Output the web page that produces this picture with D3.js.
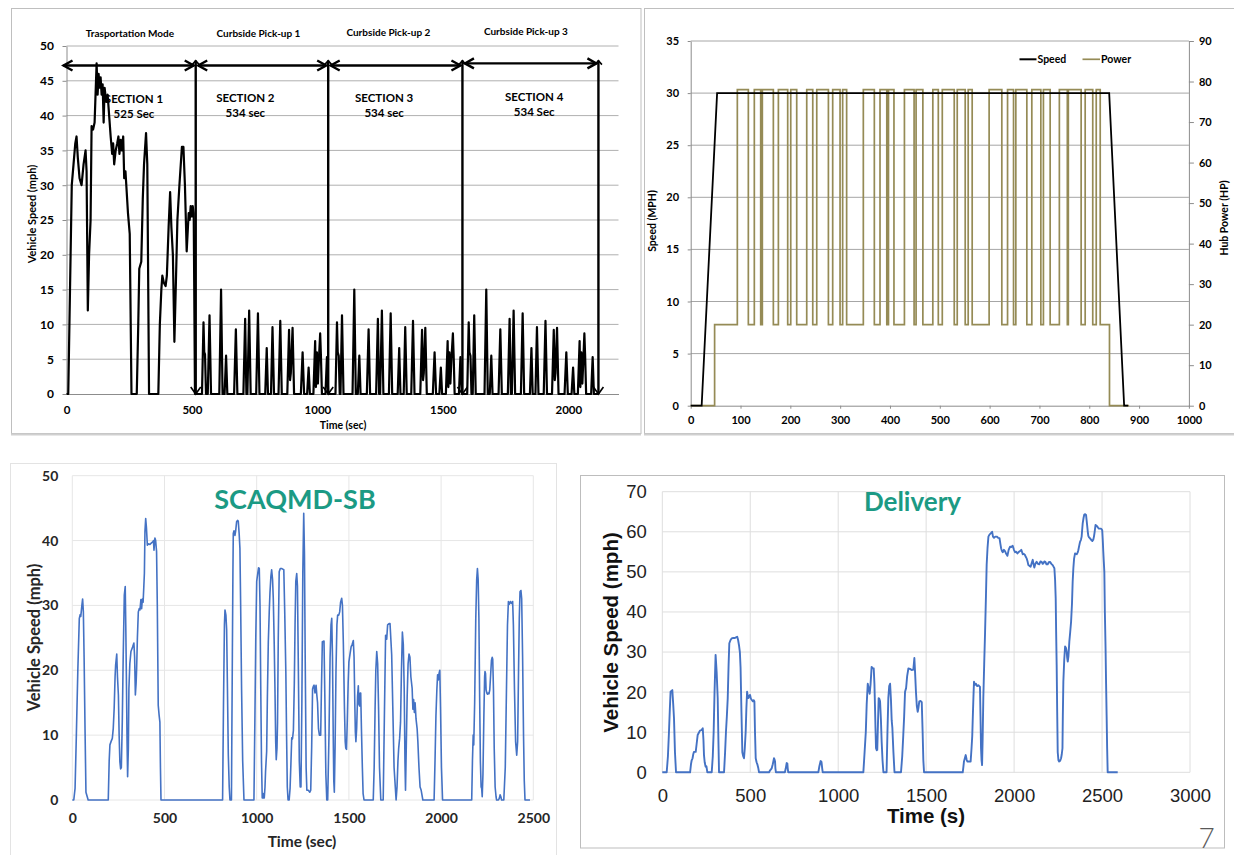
<!DOCTYPE html>
<html><head><meta charset="utf-8">
<script src="https://cdn.jsdelivr.net/npm/d3@7"></script>
<style>body{margin:0;background:#fff}svg{display:block}</style>
</head><body>
<svg id="c" width="1234" height="855"></svg>
<script>
// ---------------- DATA ----------------
// Panel 1: speed trace by section (time sec, mph)
const transportSpeed = [[0,0],[7,0],[14,15],[21,30],[28,33],[35,36],[40,37],[45,34],[52,31],[60,30],[68,33],[76,35],[80,32],[85,12],[90,20],[96,25],[100,38.5],[106,38],[112,39],[120,47.5],[124,43],[128,46],[132,44],[136,45.5],[140,43],[144,44.5],[148,39],[152,44],[158,42],[164,43],[170,40],[176,37],[182,34.5],[186,36],[190,33],[196,35],[202,36],[207,37],[211,34.5],[216,36.5],[220,35],[226,37],[230,31],[235,32],[245,26],[252,23],[259,0],[280,0],[286,10],[290,18],[298,19],[304,28],[309,33],[317,37.5],[322,33],[329,0],[366,0],[372,10],[378,15],[382,17],[388,16],[395,15.5],[400,17],[407,24],[413,29],[418,24],[424,20],[430,7.5],[436,16],[442,25],[450,30],[460,35.5],[466,35.5],[472,30],[479,20.5],[484,24],[487,26],[491,25],[495,27],[499,25.5],[503,27],[507,26],[512,0]];
const pickup1Speed = [[512,0],[540,0],[546,10.3],[549,6],[552,5.7],[556,0],[563,0],[570,11.3],[576,0],[609,0],[616,15],[622,0],[630,0],[636,5.5],[641,0],[668,0],[675,9.3],[681,0],[705,0],[712,10.8],[717,0],[721,0],[728,12],[734,0],[756,0],[763,11.6],[769,0],[792,0],[798,6.6],[803,0],[815,0],[821,9.6],[827,0],[845,0],[852,10.5],[858,0],[880,0],[887,9.2],[891,2],[894,3],[901,9.5],[907,0],[934,0],[941,6],[947,0],[959,0],[965,3.8],[970,0],[984,0],[991,7.6],[994,1],[998,6],[1002,1.5],[1006,5],[1011,8.7],[1014,5.5],[1018,0],[1032,0],[1038,5.3],[1043,0]];
const pickup2Speed = [[1043,0],[1072,0],[1078,10.3],[1081,6],[1085,5.5],[1089,0],[1092,0],[1098,11.3],[1104,0],[1140,0],[1147,15],[1153,0],[1161,0],[1167,5.5],[1172,0],[1197,0],[1204,9.3],[1210,0],[1234,0],[1241,10.8],[1246,0],[1250,0],[1257,12],[1263,0],[1285,0],[1292,11.6],[1298,0],[1320,0],[1326,6.6],[1331,0],[1344,0],[1350,9.6],[1356,0],[1374,0],[1381,10.5],[1387,0],[1410,0],[1417,9.2],[1421,2],[1424,3],[1430,9.5],[1436,0],[1460,0],[1467,6],[1473,0],[1486,0],[1492,3.8],[1497,0],[1512,0],[1519,7.6],[1522,1],[1526,6],[1530,1.5],[1534,5],[1540,8.7],[1543,5.5],[1547,0],[1564,0],[1570,5.3],[1576,0]];
const pickup3Speed = [[1576,0],[1597,0],[1603,10.3],[1606,6],[1610,5.5],[1614,0],[1619,0],[1625,11.3],[1631,0],[1666,0],[1673,15],[1679,0],[1687,0],[1693,5.5],[1698,0],[1722,0],[1729,9.3],[1735,0],[1759,0],[1766,10.8],[1771,0],[1775,0],[1782,12],[1788,0],[1811,0],[1818,11.6],[1824,0],[1847,0],[1853,6.6],[1858,0],[1869,0],[1875,9.6],[1881,0],[1902,0],[1909,10.5],[1915,0],[1935,0],[1942,9.2],[1946,2],[1949,3],[1955,9.5],[1961,0],[1985,0],[1992,6],[1998,0],[2013,0],[2019,3.8],[2024,0],[2038,0],[2045,7.6],[2048,1],[2052,6],[2056,1.5],[2060,5],[2064,8.7],[2067,5.5],[2071,0],[2091,0],[2097,5.3],[2102,0],[2120,0]];
const sectionBounds = [0, 515, 1043, 1578, 2120];
const sectionArrowLevel = [47.2, 47.2, 47.2, 47.5];
const phaseLabels = ["Trasportation Mode","Curbside Pick-up 1","Curbside Pick-up 2","Curbside Pick-up 3"];
const sectionNames = ["SECTION 1","SECTION 2","SECTION 3","SECTION 4"];
const sectionDurations = ["525 Sec","534 sec","534 sec","534 Sec"];
const p1YTicks = [0,5,10,15,20,25,30,35,40,45,50];
const p1XTicks = [0,500,1000,1500,2000];

// Panel 2: constant speed cycle + hub power
const cycleTime = [0,22,53,840,870,878];
const cycleSpeed = [0,0,30,30,0,0];
const powerStart = [0,48,93.6,115.7,127.7,140.5,143.8,165.9,176,194.7,200.8,212.8,232.9,245,253,276.4,285,299.8,305,313,346.5,368.6,380,393.6,397,408,429,448.4,452.4,466,486,497,505,529,535,551,557,565,599,624.5,636,648,652.6,674.7,684.7,702.8,708,721.5,740,756,758,783.7,791.8,807,814,822,840.6,880];
const powerLevel = [0,20,78,20,78,20,78,20,78,20,78,20,78,20,78,20,78,20,78,20,78,20,78,20,78,20,78,20,78,20,78,20,78,20,78,20,78,20,78,20,78,20,78,20,78,20,78,20,78,20,78,20,78,20,78,20,0,0];
const p2SpeedTicks = [0,5,10,15,20,25,30,35];
const p2PowerTicks = [0,10,20,30,40,50,60,70,80,90];
const p2XTicks = [0,100,200,300,400,500,600,700,800,900,1000];

// Panel 3: SCAQMD-SB
const scaqmdSpeed = [[0,0],[8,0],[15,1.8],[22,10],[30,20],[38,28],[43,28.6],[46,28.3],[52,30],[56,31],[60,29],[64,22],[69,11],[74,1.2],[81,0.5],[86,0],[195,0],[200,6],[204,8.5],[210,9],[217,9.5],[222,11],[227,14.1],[232,19],[235,20.8],[241,22.5],[245,19],[250,16.2],[254,10],[258,5.9],[262,4.8],[266,5],[271,12],[276,22],[282,31.6],[287,32.9],[290,27],[294,17.2],[297,9],[300,3.6],[304,8],[307,17.2],[312,21],[318,22.9],[327,23.6],[334,24.2],[338,22],[342,16.2],[346,18],[349,20.3],[353,25],[358,29],[363,29.5],[367,29.3],[372,30.9],[376,29.5],[380,31],[384,30.5],[388,33],[391,35],[394,41.4],[398,43.4],[402,42],[407,39.3],[414,39.5],[421,39.4],[428,39.6],[436,39.8],[440,40],[443,38.5],[448,40.4],[452,40],[457,38.3],[461,30],[466,14.6],[471,13],[475,12],[478,5],[481,0],[815,0],[820,15],[825,27],[828,29.3],[833,28.5],[837,26.3],[841,18],[846,7],[851,2],[855,0],[863,0],[868,22.4],[871,35],[873,41.1],[877,41.5],[882,40.8],[886,41.5],[891,42.9],[896,43.1],[900,43],[905,41],[909,38.8],[913,30],[918,17.1],[924,6],[931,0],[985,0],[990,12],[995,25],[1000,33.7],[1006,35],[1010,35.8],[1014,35.7],[1018,30],[1022,17.2],[1026,6],[1030,0.3],[1035,0.3],[1038,1],[1041,0.3],[1045,2],[1048,4.4],[1054,7.5],[1058,16],[1063,24.4],[1068,29],[1072,32],[1077,34.5],[1081,35.5],[1086,34],[1090,31],[1095,24],[1099,17.2],[1103,9],[1106,6.2],[1110,8],[1113,12],[1117,25],[1122,35.2],[1128,35.7],[1135,35.7],[1141,35.6],[1147,35.5],[1152,29],[1158,19.8],[1162,10],[1166,2],[1170,0],[1176,0],[1181,1.8],[1186,6],[1190,9.6],[1194,9.4],[1199,10.7],[1204,18],[1208,27],[1212,33.7],[1217,34.9],[1221,33],[1226,20],[1231,6],[1236,2],[1240,2],[1245,15],[1250,35],[1255,44.2],[1259,38],[1263,22],[1268,5],[1272,1.5],[1280,1.5],[1288,1.2],[1293,1.5],[1298,8],[1303,17.1],[1307,17.5],[1311,17.7],[1316,16.5],[1322,17.7],[1326,16.2],[1330,15],[1335,11],[1340,10],[1347,10],[1351,17],[1356,24.4],[1365,24.5],[1370,15],[1375,4],[1380,0],[1385,0],[1392,10],[1398,22],[1403,27],[1407,28],[1411,22],[1415,10],[1418,3],[1421,1.2],[1425,8],[1430,20],[1435,27],[1439,28.5],[1445,28.5],[1450,29],[1455,30.5],[1461,31.1],[1465,30],[1470,24],[1476,14],[1480,9],[1483,8],[1487,7.8],[1491,12],[1496,18],[1500,21.3],[1506,22.5],[1512,23.6],[1518,24],[1524,24.6],[1528,22],[1532,15],[1535,10.5],[1538,9],[1542,11],[1547,16],[1551,17.6],[1554,14.8],[1558,14.5],[1561,16.5],[1564,16.5],[1568,11],[1573,5],[1577,1],[1582,0],[1632,0],[1637,5],[1642,14],[1646,20],[1651,22.9],[1656,21],[1661,14],[1666,5],[1673,0],[1686,0],[1693,14],[1699,25.4],[1705,24.8],[1710,27],[1718,27.2],[1723,27.2],[1732,22.4],[1745,5],[1756,0],[1761,2],[1766,6],[1770,8],[1775,9.5],[1780,12],[1785,20],[1790,25.9],[1795,24],[1800,17],[1804,6],[1807,1.5],[1811,8],[1816,16],[1821,21],[1826,22.5],[1831,22],[1836,19],[1843,17.2],[1847,14],[1851,15.5],[1855,13.5],[1859,15],[1864,12.5],[1870,11],[1874,9],[1880,5],[1886,2],[1892,1.5],[1901,0],[1962,0],[1967,6],[1972,13],[1977,17],[1981,19.3],[1985,18.5],[1989,19.5],[1993,20],[1997,14],[2002,5],[2008,0],[2166,0],[2170,6],[2174,10],[2177,8.5],[2182,15],[2188,28],[2193,34],[2197,35.7],[2201,34],[2205,28],[2209,16],[2213,6],[2217,2],[2220,1.8],[2223,0.5],[2227,4],[2232,13],[2236,19],[2238,19.8],[2241,19.5],[2244,17],[2248,16.5],[2252,16.3],[2256,16.5],[2260,16.4],[2264,17],[2268,19],[2273,21.5],[2277,22],[2280,21.7],[2284,17],[2288,8],[2293,2],[2298,0.5],[2301,0],[2311,0],[2316,0.3],[2320,0.8],[2324,0.5],[2328,0],[2340,0],[2348,5],[2355,18],[2360,27],[2365,30.6],[2370,30.2],[2376,30.6],[2381,30.3],[2388,30.6],[2392,27],[2398,17],[2404,9],[2410,6.9],[2415,9],[2420,20],[2424,28],[2428,32.1],[2433,32.3],[2437,31],[2442,22],[2447,10],[2451,3],[2455,0],[2482,0]];
const p3YTicks = [0,10,20,30,40,50];
const p3XTicks = [0,500,1000,1500,2000,2500];

// Panel 4: Delivery
const deliverySpeed = [[0,0],[25,0],[32,4],[38,10.1],[43,16],[47,20.1],[52,20.3],[57,20.5],[62,17],[66.5,13.5],[72,5],[78,0],[158,0],[163,2],[167,3],[172,3.5],[176,4.5],[180,5.1],[190,5.1],[195,7],[201,9.3],[207,9.8],[214,10.4],[222,10.5],[230,11],[234,8],[237,4.3],[241,2.5],[246,1.4],[251,1.5],[256,0],[281,0],[287,4],[292,10.1],[297,20],[303,29.3],[309,25],[315,18.5],[319,8],[322.5,0],[351,0],[357,5],[362,10.1],[367,14],[372,18.5],[377,27],[381,32.2],[388,33],[394,33.4],[403,33.5],[413,33.5],[420,33.7],[426,33.8],[431,33],[436,31.7],[441,30],[445,26],[450,15],[455,5],[460,4],[464.5,3.5],[469,6],[474,10.1],[478,16],[482,20.1],[486,19],[489,18.5],[494,19],[499,19.3],[503,18.4],[508,18.1],[515,17.7],[520,18],[523.6,17.7],[527,10],[531,3.5],[536,2.5],[541,1.9],[546,1],[550,0],[607,0],[613,0.5],[622,1],[628,2],[635,3.5],[638,3.2],[641,2.7],[643,1],[646,0],[697,0],[702,1],[707,2.3],[711,2.2],[713,1],[716,0],[887,0],[893,1.5],[900,2.8],[905,2.6],[909,1],[912,0],[1143,0],[1150,5],[1157,10.1],[1162,17],[1168,22.1],[1173,21],[1179,19.6],[1184,22],[1190,26.3],[1196,26],[1202,25.9],[1206,22],[1209,16.8],[1212,11],[1215,6],[1219,5.5],[1222,5.6],[1226,12],[1230,18.5],[1234,18.3],[1238,17.7],[1243,13],[1247,7.7],[1252,3],[1257,0],[1275,0],[1280,10],[1285,18.5],[1290,21.5],[1295,22.1],[1300,18],[1304,13],[1308,11],[1314,5],[1320,0],[1357,0],[1364,4],[1370,9.3],[1375,14],[1380,20.1],[1386,21],[1392,24],[1399,25.9],[1408,25.8],[1418,25.5],[1427,25.6],[1430,27],[1433,28.5],[1437,25],[1442,20.1],[1447,16.5],[1452,15.1],[1456,16],[1461,17.7],[1468,17.8],[1475,17.5],[1480,10],[1484,3],[1488,0],[1708,0],[1712,1.5],[1715,2.7],[1720,3.5],[1725,4.3],[1730,3.2],[1734,2.7],[1745,2.7],[1753,2.7],[1758,6],[1762,9],[1765,13.5],[1769,19],[1772,22.6],[1777,21.8],[1783,22.1],[1790,21.5],[1797,21.7],[1802,21.5],[1806,21.3],[1809,14],[1812,6],[1815,3],[1818,1.8],[1821,8],[1825,18.5],[1830,27],[1835,35],[1840,44],[1844,51.7],[1849,56],[1854,58.8],[1860,59.3],[1867,59.6],[1871,59.8],[1875,60],[1880,58.8],[1886,58.5],[1893,58.8],[1901,58.8],[1909,58.5],[1917,58.4],[1922,57],[1926,55.9],[1931,55.2],[1935.5,54.9],[1942,55.5],[1949,55.1],[1955,54.5],[1962,54],[1969,55.5],[1977,56.3],[1984,56.2],[1992,56.5],[1999,55.5],[2006,54.9],[2012,55],[2019,54.6],[2027,55],[2034,55.2],[2041,55.5],[2049,54.4],[2055,54.5],[2062,54.2],[2067,53.7],[2072,53.3],[2077,52.5],[2081,51.7],[2087,51.5],[2094,51.3],[2100,52.2],[2106,53],[2110,52],[2115,51.1],[2121,52],[2128,52.5],[2135,52],[2143,51.9],[2150,52.6],[2157,52.5],[2162,52],[2166,52.1],[2172,52.6],[2178,52.5],[2184,51.9],[2191,51.9],[2197,52.4],[2204,52.5],[2212,52],[2219,51.7],[2224,51.3],[2229,50.9],[2233,48],[2236.5,43.4],[2239,35],[2242,26.8],[2245,15],[2248,5],[2252,3],[2256,2.7],[2262,2.9],[2267,3.5],[2271,4.5],[2275,6],[2277,14],[2280,22.6],[2285,28],[2290,31.4],[2295,31],[2299,30.1],[2302,28.5],[2305,27.6],[2309,29],[2314,32.6],[2319,35],[2324,37.6],[2329,42],[2333,47.6],[2337,51],[2341,53.3],[2346.5,54.6],[2351,54.5],[2356,54.4],[2361,54.8],[2365,55.4],[2370,56.5],[2375,57.5],[2380,58],[2384,58.8],[2387,60.5],[2390,62.1],[2395,63.5],[2399,64.3],[2404,64.4],[2409,64.2],[2412,63],[2416,61.3],[2419,60],[2422,59],[2426,58.6],[2431,58.4],[2438,58],[2445,57.7],[2450,58],[2454,58.8],[2458,60],[2463,61.7],[2468,61.5],[2473,61.3],[2478,61],[2482,60.8],[2488,60.8],[2494,60.8],[2498,60.6],[2501,60.4],[2504,58],[2507,55.1],[2510,52.5],[2513,50],[2516,40],[2520,30.9],[2523,22],[2526,14.2],[2529,6],[2532,0],[2589,0]];
const p4YTicks = [0,10,20,30,40,50,60,70];
const p4XTicks = [0,500,1000,1500,2000,2500,3000];

// ---------------- DRAWING ----------------
const svg = d3.select('#c');
svg.append('rect').attr('width',1234).attr('height',855).attr('fill','#fff');
const CAL = "Lato, 'Open Sans', sans-serif";
const ARIAL = "'Liberation Sans', Arial, sans-serif";
const fmt = d3.format('d');

function styleAxis(g, o){
  g.select('.domain').attr('stroke', o.domain || 'none').attr('stroke-width', 1);
  g.selectAll('.tick line').attr('stroke', o.tick || 'none');
  g.selectAll('.tick text').attr('fill', o.color).style('font-family', o.font)
    .style('font-size', o.size + 'px').style('font-weight', o.weight);
}
function txt(g, x, y, s, o){
  const t = g.append('text').attr('x', x).attr('y', y).text(s)
    .style('font-family', o.font).style('font-size', o.size + 'px').style('font-weight', o.weight || 400)
    .attr('fill', o.color || '#000').attr('text-anchor', o.anchor || 'middle').attr('dominant-baseline','central');
  if (o.rotate) t.attr('transform', `rotate(${o.rotate},${x},${y})`);
  return t;
}

// Frames
svg.append('rect').attr('x',11.5).attr('y',8.5).attr('width',629.5).attr('height',425).attr('fill','none').attr('stroke','#bfbfbf');
svg.append('line').attr('x1',11).attr('x2',641).attr('y1',434.5).attr('y2',434.5).attr('stroke','#d0d0d0').attr('stroke-width',2);
svg.append('rect').attr('x',644.5).attr('y',8.5).attr('width',600).attr('height',425).attr('fill','none').attr('stroke','#bfbfbf');
svg.append('line').attr('x1',644).attr('x2',1234).attr('y1',434.5).attr('y2',434.5).attr('stroke','#d0d0d0').attr('stroke-width',2);
svg.append('rect').attr('x',10.5).attr('y',463.5).attr('width',546).attr('height',400).attr('fill','none').attr('stroke','#e3e3e3');
svg.append('rect').attr('x',580.5).attr('y',475.5).attr('width',644).attr('height',372.5).attr('fill','none').attr('stroke','#bdbdbd');

// ---------- Panel 1 ----------
{
  const x = d3.scaleLinear().domain([0,2200]).range([66.5,618.5]);
  const y = d3.scaleLinear().domain([0,50]).range([394,46]);
  const g = svg.append('g');
  g.selectAll('line.gr').data(p1YTicks.filter(d=>d>0)).join('line')
    .attr('x1',x(0)).attr('x2',x(2200)).attr('y1',d=>y(d)).attr('y2',d=>y(d)).attr('stroke','#b0b0b0');
  const ay = g.append('g').attr('transform',`translate(${x(0)},0)`)
    .call(d3.axisLeft(y).tickValues(p1YTicks).tickFormat(fmt).tickSize(4).tickSizeOuter(0).tickPadding(8.5));
  styleAxis(ay,{domain:'#8c8c8c',tick:'#8c8c8c',color:'#000',font:CAL,size:12,weight:700});
  const ax = g.append('g').attr('transform',`translate(0,${y(0)})`)
    .call(d3.axisBottom(x).tickValues(p1XTicks).tickFormat(fmt).tickSize(0).tickSizeOuter(0).tickPadding(12));
  styleAxis(ax,{domain:'#8c8c8c',tick:'none',color:'#000',font:CAL,size:11.5,weight:700});
  txt(g, 343, 425, 'Time (sec)', {font:CAL,size:10.5,weight:700});
  txt(g, 31, 214, 'Vehicle Speed (mph)', {font:CAL,size:11,weight:700,rotate:-90});
  // phase labels
  const phaseX = [253, 765, 1283, 1831], phaseY = [33.3, 32.5, 31.7, 30.7];
  phaseLabels.forEach((s,i)=>txt(g, x(phaseX[i]), phaseY[i], s, {font:CAL,size:10,weight:700}));
  const secX = [269, 713, 1266, 1864], secY = [42.4, 42.55, 42.6, 42.7];
  sectionNames.forEach((s,i)=>{
    txt(g, x(secX[i]), y(secY[i]), s, {font:CAL,size:11.5,weight:700});
    txt(g, x(secX[i]), y(secY[i]) + 15, sectionDurations[i], {font:CAL,size:11.5,weight:700});
  });
  const line = d3.line().x(d=>x(d[0])).y(d=>y(d[1]));
  const all = transportSpeed.concat(pickup1Speed.slice(1), pickup2Speed.slice(1), pickup3Speed.slice(1));
  g.append('path').datum(all).attr('d',line).attr('fill','none').attr('stroke','#000')
    .attr('stroke-width',2.2).attr('stroke-linejoin','round');
  // arrows
  const A = g.append('g').attr('stroke','#000').attr('fill','none').attr('stroke-width',2.4).attr('stroke-linejoin','miter');
  for (let i=0;i<4;i++){
    const yy = y(sectionArrowLevel[i]);
    const x0 = x(sectionBounds[i]) + (i===0 ? -3 : 2.5), x1 = x(sectionBounds[i+1]) - 2;
    A.append('line').attr('x1',x0).attr('x2',x1).attr('y1',yy).attr('y2',yy);
    A.append('path').attr('d',`M${x0+9},${yy-5}L${x0},${yy}L${x0+9},${yy+5}`);
    A.append('path').attr('d',`M${x1-9},${yy-5}L${x1},${yy}L${x1-9},${yy+5}`);
  }
  for (let i=1;i<5;i++){
    const xx = x(sectionBounds[i]), yt = y(47.9), yb = y(0);
    A.append('line').attr('x1',xx).attr('x2',xx).attr('y1',yt).attr('y2',yb);
    A.append('path').attr('d',`M${xx-3.5},${yt+4}L${xx},${yt}L${xx+3.5},${yt+4}`).attr('stroke-width',1.6);
    A.append('path').attr('d',`M${xx-5},${yb-7}L${xx},${yb}L${xx+5},${yb-7}`).attr('stroke-width',1.6);
  }
}

// ---------- Panel 2 ----------
{
  const x = d3.scaleLinear().domain([0,1000]).range([690.7,1188.9]);
  const yL = d3.scaleLinear().domain([0,35]).range([405.7,41]);
  const yR = d3.scaleLinear().domain([0,90]).range([405.7,41]);
  const g = svg.append('g');
  g.selectAll('line.gr').data(p2SpeedTicks.filter(d=>d>0)).join('line')
    .attr('x1',x(0)).attr('x2',x(1000)).attr('y1',d=>yL(d)).attr('y2',d=>yL(d)).attr('stroke','#a6a6a6');
  const al = g.append('g').attr('transform',`translate(${x(0)},0)`)
    .call(d3.axisLeft(yL).tickValues(p2SpeedTicks).tickFormat(fmt).tickSize(3).tickSizeOuter(0).tickPadding(8.7));
  styleAxis(al,{domain:'#8c8c8c',tick:'#8c8c8c',color:'#000',font:CAL,size:11,weight:700});
  const ar = g.append('g').attr('transform',`translate(${x(1000)},0)`)
    .call(d3.axisRight(yR).tickValues(p2PowerTicks).tickFormat(fmt).tickSize(5).tickSizeOuter(0).tickPadding(5));
  styleAxis(ar,{domain:'#8c8c8c',tick:'#8c8c8c',color:'#000',font:CAL,size:11,weight:700});
  const ab = g.append('g').attr('transform',`translate(0,${yL(0)})`)
    .call(d3.axisBottom(x).tickValues(p2XTicks).tickFormat(fmt).tickSize(3).tickSizeOuter(0).tickPadding(8));
  styleAxis(ab,{domain:'#8c8c8c',tick:'#8c8c8c',color:'#000',font:CAL,size:11,weight:700});
  txt(g, 651.5, 221, 'Speed (MPH)', {font:CAL,size:10.5,weight:700,rotate:-90});
  txt(g, 1224, 218, 'Hub Power (HP)', {font:CAL,size:10.5,weight:700,rotate:-90});
  const power = powerStart.map((t,i)=>[t,powerLevel[i]]);
  g.append('path').datum(power)
    .attr('d', d3.line().x(d=>x(d[0])).y(d=>yR(d[1])).curve(d3.curveStepAfter))
    .attr('fill','none').attr('stroke','#958b56').attr('stroke-width',1.7);
  const sp = cycleTime.map((t,i)=>[t,cycleSpeed[i]]);
  g.append('path').datum(sp).attr('d', d3.line().x(d=>x(d[0])).y(d=>yL(d[1])))
    .attr('fill','none').attr('stroke','#000').attr('stroke-width',1.8);
  // legend
  g.append('line').attr('x1',1019.5).attr('x2',1036.5).attr('y1',59.3).attr('y2',59.3).attr('stroke','#000').attr('stroke-width',2);
  txt(g, 1037.5, 59.3, 'Speed', {font:CAL,size:10.5,weight:700,anchor:'start'});
  g.append('line').attr('x1',1082.5).attr('x2',1100).attr('y1',59.3).attr('y2',59.3).attr('stroke','#958b56').attr('stroke-width',1.7);
  txt(g, 1101, 59.3, 'Power', {font:CAL,size:10.5,weight:700,anchor:'start'});
}

// ---------- Panel 3 ----------
{
  const x = d3.scaleLinear().domain([0,2500]).range([72.3,533.3]);
  const y = d3.scaleLinear().domain([0,50]).range([800,475.7]);
  const g = svg.append('g');
  g.selectAll('line.gh').data(p3YTicks).join('line')
    .attr('x1',x(0)).attr('x2',x(2500)).attr('y1',d=>y(d)).attr('y2',d=>y(d)).attr('stroke','#e6e6e6');
  g.selectAll('line.gv').data(p3XTicks).join('line')
    .attr('x1',d=>x(d)).attr('x2',d=>x(d)).attr('y1',y(0)).attr('y2',y(50)).attr('stroke','#e6e6e6');
  const ay = g.append('g').attr('transform',`translate(${x(0)},0)`)
    .call(d3.axisLeft(y).tickValues(p3YTicks).tickFormat(fmt).tickSize(0).tickPadding(14));
  styleAxis(ay,{domain:'none',color:'#262626',font:CAL,size:14,weight:700});
  const ax = g.append('g').attr('transform',`translate(0,${y(0)})`)
    .call(d3.axisBottom(x).tickValues(p3XTicks).tickFormat(fmt).tickSize(0).tickPadding(13));
  styleAxis(ax,{domain:'none',color:'#262626',font:CAL,size:14,weight:700});
  txt(g, 302, 841, 'Time (sec)', {font:CAL,size:15.5,weight:700,color:'#262626'});
  txt(g, 33.5, 637.5, 'Vehicle Speed (mph)', {font:CAL,size:16.5,weight:700,color:'#262626',rotate:-90});
  txt(g, 295, 498.5, 'SCAQMD-SB', {font:CAL,size:27,weight:700,color:'#1b9a84'});
  g.append('path').datum(scaqmdSpeed).attr('d', d3.line().x(d=>x(d[0])).y(d=>y(d[1])))
    .attr('fill','none').attr('stroke','#4472c4').attr('stroke-width',1.6).attr('stroke-linejoin','round');
}

// ---------- Panel 4 ----------
{
  const x = d3.scaleLinear().domain([0,3000]).range([662.3,1190]);
  const y = d3.scaleLinear().domain([0,70]).range([772.3,491.7]);
  const g = svg.append('g');
  g.selectAll('line.gh').data(p4YTicks).join('line')
    .attr('x1',x(0)).attr('x2',x(3000)).attr('y1',d=>y(d)).attr('y2',d=>y(d)).attr('stroke','#dedede');
  g.selectAll('line.gv').data(p4XTicks).join('line')
    .attr('x1',d=>x(d)).attr('x2',d=>x(d)).attr('y1',y(0)).attr('y2',y(70)).attr('stroke','#dedede');
  const ay = g.append('g').attr('transform',`translate(${x(0)},0)`)
    .call(d3.axisLeft(y).tickValues(p4YTicks).tickFormat(fmt).tickSize(0).tickPadding(15.5));
  styleAxis(ay,{domain:'none',color:'#222',font:ARIAL,size:18.5,weight:400});
  const ax = g.append('g').attr('transform',`translate(0,${y(0)})`)
    .call(d3.axisBottom(x).tickValues(p4XTicks).tickFormat(fmt).tickSize(0).tickPadding(16.5));
  styleAxis(ax,{domain:'none',color:'#222',font:ARIAL,size:18.5,weight:400});
  txt(g, 926, 815, 'Time (s)', {font:ARIAL,size:20.5,weight:700,color:'#111'});
  txt(g, 610, 632.5, 'Vehicle Speed (mph)', {font:ARIAL,size:20.5,weight:700,color:'#111',rotate:-90});
  txt(g, 912.5, 501, 'Delivery', {font:CAL,size:26,weight:700,color:'#1b9a84'});
  g.append('path').datum(deliverySpeed).attr('d', d3.line().x(d=>x(d[0])).y(d=>y(d[1])))
    .attr('fill','none').attr('stroke','#4472c4').attr('stroke-width',1.9).attr('stroke-linejoin','round');
  txt(g, 1206.5, 837, '7', {font:CAL,size:28,weight:300,color:'#595959'});
}
</script>
</body></html>
